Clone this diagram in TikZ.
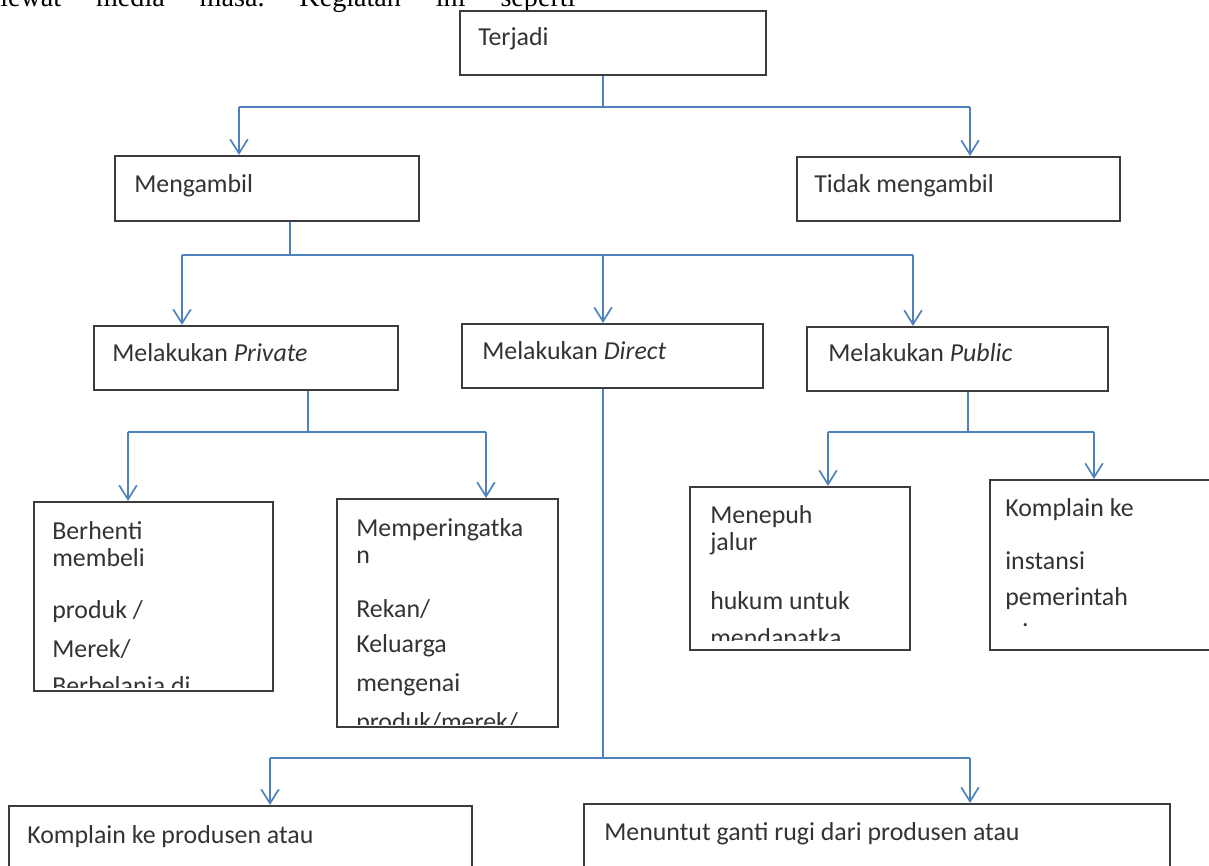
\documentclass[tikz,border=0pt]{standalone}
\usepackage{fontspec}
\setmainfont{Carlito}
\newfontfamily\seriffont{Liberation Serif}
\usetikzlibrary{arrows.meta}
\usetikzlibrary{calc}
\definecolor{linkblue}{HTML}{4F81BD}
\definecolor{boxgray}{HTML}{3C3C3C}
\definecolor{textgray}{HTML}{333333}
\newcommand{\pu}{0.025cm}
\newcommand{\boxfont}{\fontsize{18.4}{19.1}\selectfont}
\frenchspacing

\begin{document}
\begin{tikzpicture}[x=0.025cm, y=-0.025cm,
		box/.style 2 args={draw=boxgray, line width=1.5pt, inner sep=0pt, minimum width=#1*\pu, minimum height=#2*\pu},
		lbl/.style={inner sep=0pt, align=left, font=\boxfont, text=textgray},
		link/.style={draw=linkblue, line width=1.2pt},
		arr/.style={link, -{Straight Barb[length=10pt, width=12.5pt]}}]

		\clip (0, 0) rectangle (1209, 866);

		\node [anchor=base west, inner sep=0pt, font=\seriffont\fontsize{20}{24}\selectfont] (pagetext) at (0, 7) {\makebox[14.375cm][s]{lewat media masa. Kegiatan ini seperti}};

		\node [box={306}{64}] (terjadi) at (613, 43) {};
		\node [lbl, anchor=base west] (terjadilbl) at (478, 46) {Terjadi};

		\node [box={304}{65}] (mengambil) at (267, 188.5) {};
		\node [lbl, anchor=base west] (mengambillbl) at (134, 193) {Mengambil};
		\node [box={323}{64}] (tidak) at (958.5, 189) {};
		\node [lbl, anchor=base west] (tidaklbl) at (814, 193) {Tidak mengambil};

		\node [box={304}{64}] (private) at (246, 358) {};
		\node [lbl, anchor=base west] (privatelbl) at (112, 361) {Melakukan \textit{Private}};
		\node [box={301}{64}] (direct) at (612.5, 356) {};
		\node [lbl, anchor=base west] (directlbl) at (482, 359) {Melakukan \textit{Direct}};
		\node [box={301}{64}] (public) at (957.5, 359) {};
		\node [lbl, anchor=base west] (publiclbl) at (828, 361) {Melakukan \textit{Public}};

		\node [box={239}{189}] (berhenti) at (153.5, 596.5) {};
		\begin{scope}
			\clip (berhenti.north west) rectangle ([yshift=5*\pu]berhenti.south east);
			\node [lbl, anchor=north west] (berhentilbl) at (52, 521) {Berhenti\\membeli\\[18pt]produk /\\[8.5pt]Merek/\\[7.5pt]Berbelanja di};
		\end{scope}

		\node [box={221}{228}] (peringat) at (447.5, 613) {};
		\begin{scope}
			\clip (peringat.north west) rectangle ([yshift=4*\pu]peringat.south east);
			\node [lbl, anchor=north west] (peringatlbl) at (356, 518) {Memperingatka\\n\\[19.4pt]Rekan/\\[6pt]Keluarga\\[8.7pt]mengenai\\[8.8pt]produk/merek/};
		\end{scope}

		\node [box={220}{163}] (menepuh) at (800, 568.5) {};
		\begin{scope}
			\clip (menepuh.north west) rectangle ([yshift=11*\pu]menepuh.south east);
			\node [lbl, anchor=north west] (menepuhlbl) at (710, 505) {Menepuh\\jalur\\[23.4pt]hukum untuk\\[7pt]mendapatka};
		\end{scope}

		\node [box={250}{170}] (instansi) at (1115, 565) {};
		\begin{scope}
			\clip (instansi.north west) rectangle ([yshift=11*\pu]instansi.south east);
			\node [lbl, anchor=north west] (instansilbl) at (1005, 498) {Komplain ke\\[19pt]instansi\\[6pt]pemerintah\\[-4pt]\hspace*{12pt}.};
		\end{scope}

		\node [box={463}{114}] (produsena) at (240.5, 863) {};
		\node [lbl, anchor=base west] (produsenalbl) at (27, 843) {Komplain ke produsen atau};
		\node [box={586}{116}] (produsenb) at (877, 862) {};
		\node [lbl, anchor=base west] (produsenblbl) at (604, 840) {Menuntut ganti rugi dari produsen atau};

		\coordinate (tc) at (603, 107);
		\coordinate (ta) at (239, 107);
		\coordinate (tb) at (970, 107);
		\draw [link] (terjadi.south -| tc) -- (tc);
		\draw [link] (ta) -- (tb);
		\draw [arr] (ta) -- (ta |- mengambil.north);
		\draw [arr] (tb) -- (tb |- tidak.north);

		\coordinate (mc) at (290, 255);
		\coordinate (ma) at (182, 255);
		\coordinate (mb) at (603, 255);
		\coordinate (md) at (913, 255);
		\draw [link] (mengambil.south -| mc) -- (mc);
		\draw [link] (ma) -- (md);
		\draw [arr] (ma) -- (ma |- private.north);
		\draw [arr] (mb) -- (mb |- direct.north);
		\draw [arr] (md) -- (md |- public.north);

		\coordinate (pc) at (308, 432);
		\coordinate (pa) at (128, 432);
		\coordinate (pb) at (486, 432);
		\draw [link] (private.south -| pc) -- (pc);
		\draw [link] (pa) -- (pb);
		\draw [arr] (pa) -- (pa |- berhenti.north);
		\draw [arr] (pb) -- (pb |- peringat.north);

		\coordinate (uc) at (968, 432);
		\coordinate (ua) at (828, 432);
		\coordinate (ub) at (1094, 432);
		\draw [link] (public.south -| uc) -- (uc);
		\draw [link] (ua) -- (ub);
		\draw [arr] (ua) -- (ua |- menepuh.north);
		\draw [arr] (ub) -- (ub |- instansi.north);

		\coordinate (dc) at (603, 758);
		\coordinate (da) at (270, 758);
		\coordinate (db) at (970, 758);
		\draw [link] (direct.south -| dc) -- (dc);
		\draw [link] (da) -- (db);
		\draw [arr] (da) -- (da |- produsena.north);
		\draw [arr] (db) -- (db |- produsenb.north);
	\end{tikzpicture}
\end{document}
